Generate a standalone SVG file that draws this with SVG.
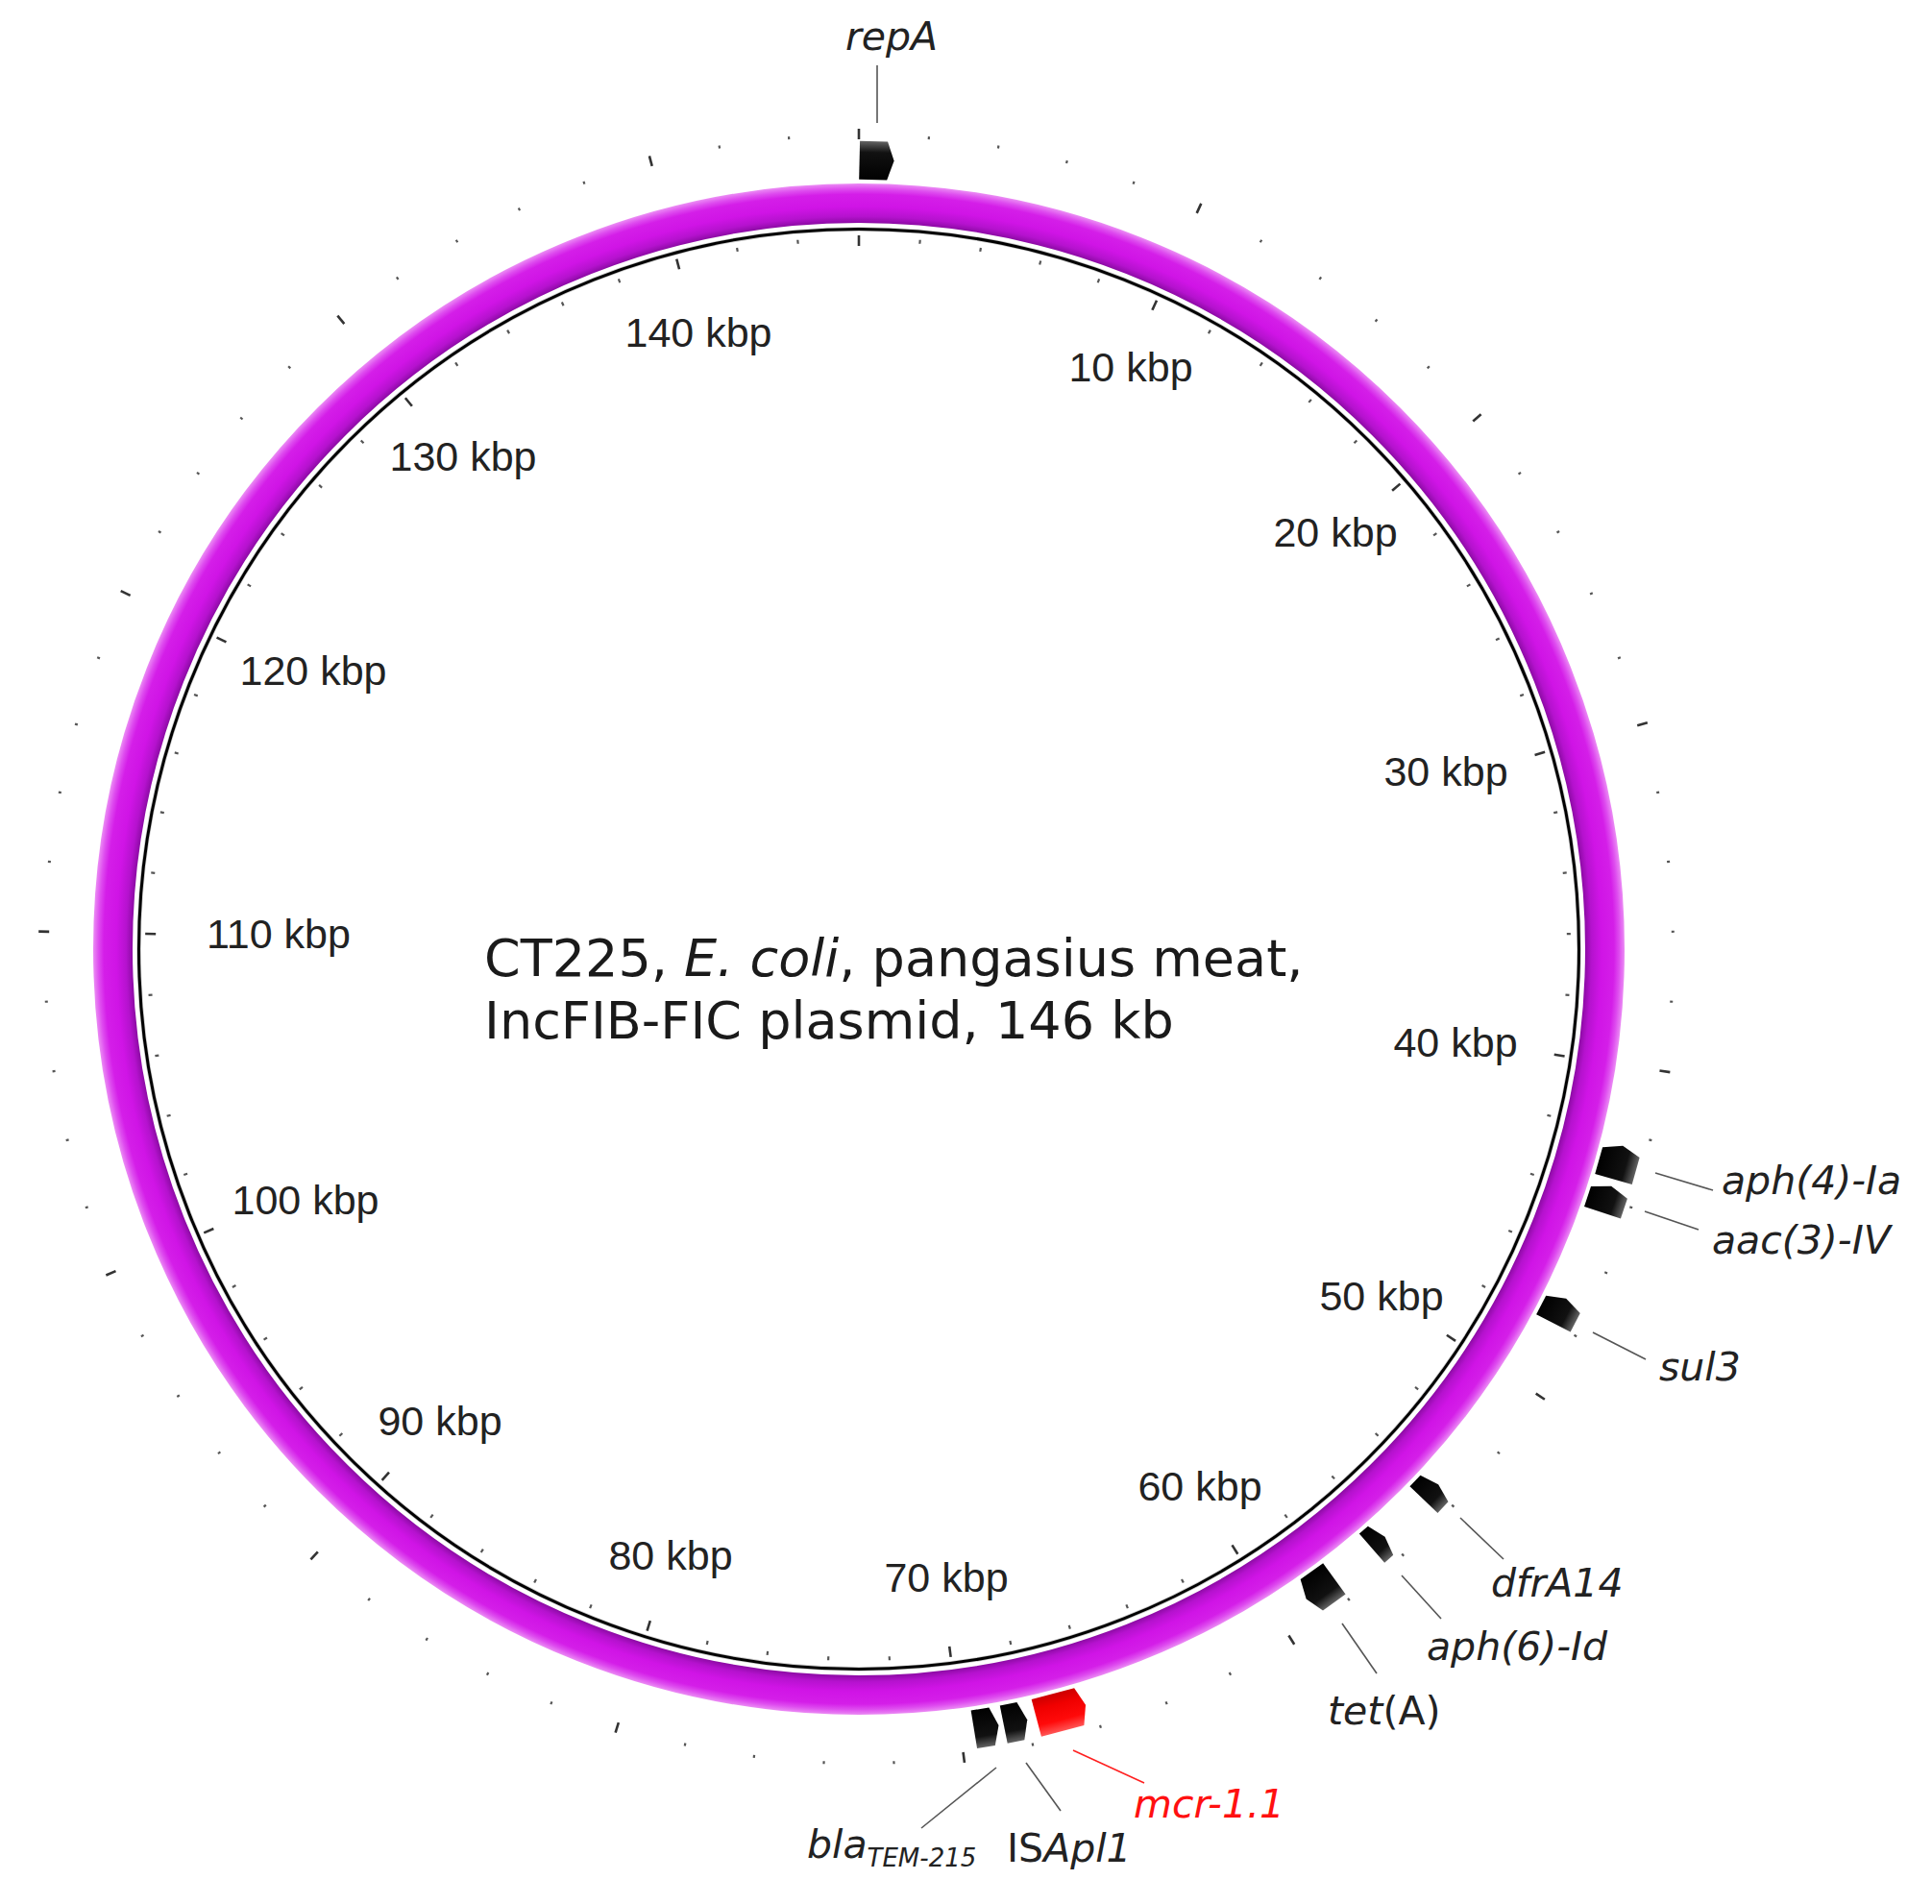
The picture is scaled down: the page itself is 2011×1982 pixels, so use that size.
<svg xmlns="http://www.w3.org/2000/svg" xmlns:xlink="http://www.w3.org/1999/xlink" width="2011" height="1982" viewBox="0 0 2011 1982">
<style>
.kb{font-family:"Liberation Sans",Arial,sans-serif;font-size:43px;fill:#222;text-anchor:middle}
.title{font-family:"DejaVu Sans","Verdana",sans-serif;font-size:54px;fill:#1a1a1a}
.gl{font-family:"DejaVu Sans","Verdana",sans-serif;font-size:41px;fill:#222;font-style:italic}
.up{font-style:normal}
.lead{stroke:#555;stroke-width:1.6;fill:none}
.tk{stroke:#555;stroke-width:2.2}
.TK{stroke:#333;stroke-width:2.6}
.gene{fill:url(#gblack)}
.red{fill:url(#gred)}
</style>
<defs>
<radialGradient id="ring" gradientUnits="userSpaceOnUse" cx="894" cy="988" r="797">
<stop offset="0.948" stop-color="#8a0aa2"/>
<stop offset="0.957" stop-color="#b512ce"/>
<stop offset="0.97" stop-color="#d014e6"/>
<stop offset="0.986" stop-color="#d41ee8"/>
<stop offset="0.993" stop-color="#de4cef"/>
<stop offset="1" stop-color="#eb8cf4"/>
</radialGradient>
<radialGradient id="gblack" gradientUnits="userSpaceOnUse" cx="894" cy="988" r="842">
<stop offset="0.95" stop-color="#000"/>
<stop offset="0.985" stop-color="#111"/>
<stop offset="1" stop-color="#6a6a6a"/>
</radialGradient>
<radialGradient id="gred" gradientUnits="userSpaceOnUse" cx="894" cy="988" r="842">
<stop offset="0.95" stop-color="#c80000"/>
<stop offset="0.965" stop-color="#f00000"/>
<stop offset="0.985" stop-color="#ff0a0a"/>
<stop offset="1" stop-color="#ff5a5a"/>
</radialGradient>
<g id="t"><line class="tk" x1="894" y1="247" x2="894" y2="251"/><line class="tk" x1="894" y1="139" x2="894" y2="142"/></g>
<g id="T"><line class="TK" x1="894" y1="245" x2="894" y2="256"/><line class="TK" x1="894" y1="134" x2="894" y2="145"/></g>
</defs>
<rect width="2011" height="1982" fill="#fff"/>

<g id="backbone">
<circle cx="894" cy="988" r="776.5" fill="none" stroke="url(#ring)" stroke-width="41"/>
<circle cx="894" cy="988" r="749.5" fill="none" stroke="#ccc" stroke-width="4.5"/>
<circle cx="894" cy="988" r="749.5" fill="none" stroke="#000" stroke-width="3"/>
</g>

<g id="ticks">
<use href="#T"/>
<use href="#t" transform="rotate(4.932 894 988)"/>
<use href="#t" transform="rotate(9.863 894 988)"/>
<use href="#t" transform="rotate(14.795 894 988)"/>
<use href="#t" transform="rotate(19.726 894 988)"/>
<use href="#T" transform="rotate(24.658 894 988)"/>
<use href="#t" transform="rotate(29.589 894 988)"/>
<use href="#t" transform="rotate(34.521 894 988)"/>
<use href="#t" transform="rotate(39.452 894 988)"/>
<use href="#t" transform="rotate(44.384 894 988)"/>
<use href="#T" transform="rotate(49.315 894 988)"/>
<use href="#t" transform="rotate(54.247 894 988)"/>
<use href="#t" transform="rotate(59.178 894 988)"/>
<use href="#t" transform="rotate(64.110 894 988)"/>
<use href="#t" transform="rotate(69.041 894 988)"/>
<use href="#T" transform="rotate(73.973 894 988)"/>
<use href="#t" transform="rotate(78.904 894 988)"/>
<use href="#t" transform="rotate(83.836 894 988)"/>
<use href="#t" transform="rotate(88.767 894 988)"/>
<use href="#t" transform="rotate(93.699 894 988)"/>
<use href="#T" transform="rotate(98.630 894 988)"/>
<use href="#t" transform="rotate(103.562 894 988)"/>
<use href="#t" transform="rotate(108.493 894 988)"/>
<use href="#t" transform="rotate(113.425 894 988)"/>
<use href="#t" transform="rotate(118.356 894 988)"/>
<use href="#T" transform="rotate(123.288 894 988)"/>
<use href="#t" transform="rotate(128.219 894 988)"/>
<use href="#t" transform="rotate(133.151 894 988)"/>
<use href="#t" transform="rotate(138.082 894 988)"/>
<use href="#t" transform="rotate(143.014 894 988)"/>
<use href="#T" transform="rotate(147.945 894 988)"/>
<use href="#t" transform="rotate(152.877 894 988)"/>
<use href="#t" transform="rotate(157.808 894 988)"/>
<use href="#t" transform="rotate(162.740 894 988)"/>
<use href="#t" transform="rotate(167.671 894 988)"/>
<use href="#T" transform="rotate(172.603 894 988)"/>
<use href="#t" transform="rotate(177.534 894 988)"/>
<use href="#t" transform="rotate(182.466 894 988)"/>
<use href="#t" transform="rotate(187.397 894 988)"/>
<use href="#t" transform="rotate(192.329 894 988)"/>
<use href="#T" transform="rotate(197.260 894 988)"/>
<use href="#t" transform="rotate(202.192 894 988)"/>
<use href="#t" transform="rotate(207.123 894 988)"/>
<use href="#t" transform="rotate(212.055 894 988)"/>
<use href="#t" transform="rotate(216.986 894 988)"/>
<use href="#T" transform="rotate(221.918 894 988)"/>
<use href="#t" transform="rotate(226.849 894 988)"/>
<use href="#t" transform="rotate(231.781 894 988)"/>
<use href="#t" transform="rotate(236.712 894 988)"/>
<use href="#t" transform="rotate(241.644 894 988)"/>
<use href="#T" transform="rotate(246.575 894 988)"/>
<use href="#t" transform="rotate(251.507 894 988)"/>
<use href="#t" transform="rotate(256.438 894 988)"/>
<use href="#t" transform="rotate(261.370 894 988)"/>
<use href="#t" transform="rotate(266.301 894 988)"/>
<use href="#T" transform="rotate(271.233 894 988)"/>
<use href="#t" transform="rotate(276.164 894 988)"/>
<use href="#t" transform="rotate(281.096 894 988)"/>
<use href="#t" transform="rotate(286.027 894 988)"/>
<use href="#t" transform="rotate(290.959 894 988)"/>
<use href="#T" transform="rotate(295.890 894 988)"/>
<use href="#t" transform="rotate(300.822 894 988)"/>
<use href="#t" transform="rotate(305.753 894 988)"/>
<use href="#t" transform="rotate(310.685 894 988)"/>
<use href="#t" transform="rotate(315.616 894 988)"/>
<use href="#T" transform="rotate(320.548 894 988)"/>
<use href="#t" transform="rotate(325.479 894 988)"/>
<use href="#t" transform="rotate(330.411 894 988)"/>
<use href="#t" transform="rotate(335.342 894 988)"/>
<use href="#t" transform="rotate(340.274 894 988)"/>
<use href="#T" transform="rotate(345.205 894 988)"/>
<use href="#t" transform="rotate(350.137 894 988)"/>
<use href="#t" transform="rotate(355.068 894 988)"/>
</g>

<g id="scale-labels">
<text class="kb" x="1177" y="397">10 kbp</text>
<text class="kb" x="1390" y="569">20 kbp</text>
<text class="kb" x="1505" y="818">30 kbp</text>
<text class="kb" x="1515" y="1100">40 kbp</text>
<text class="kb" x="1438" y="1364">50 kbp</text>
<text class="kb" x="1249" y="1562">60 kbp</text>
<text class="kb" x="985" y="1657">70 kbp</text>
<text class="kb" x="698" y="1634">80 kbp</text>
<text class="kb" x="458" y="1494">90 kbp</text>
<text class="kb" x="318" y="1264">100 kbp</text>
<text class="kb" x="290" y="987">110 kbp</text>
<text class="kb" x="326" y="713">120 kbp</text>
<text class="kb" x="482" y="490">130 kbp</text>
<text class="kb" x="727" y="361">140 kbp</text>
</g>

<g id="title">
<text class="title" x="504" y="1016">CT225, <tspan font-style="italic">E. coli</tspan>, pangasius meat,</text>
<text class="title" x="504" y="1081">IncFIB-FIC plasmid, 146 kb</text>
</g>

<g id="connectors">
<line class="lead" x1="913" y1="68" x2="913" y2="128"/>
<line class="lead" x1="1723" y1="1221" x2="1783" y2="1239"/>
<line class="lead" x1="1712" y1="1261" x2="1768" y2="1280"/>
<line class="lead" x1="1658" y1="1387" x2="1713" y2="1415"/>
<line class="lead" x1="1520" y1="1580" x2="1565" y2="1623"/>
<line class="lead" x1="1459" y1="1640" x2="1500" y2="1685"/>
<line class="lead" x1="1397" y1="1690" x2="1433" y2="1742"/>
<line class="lead" x1="1117" y1="1822" x2="1191" y2="1856" style="stroke:#ff2020"/>
<line class="lead" x1="1068" y1="1835" x2="1104" y2="1885"/>
<line class="lead" x1="1037" y1="1840" x2="959" y2="1903"/>
</g>

<g id="gene-repA">
<path class="gene" transform="rotate(1.3 894 988)" d="M876,187 L905,187 L912,167 L905,147 L876,147 Z"/>
<text class="gl" x="880" y="52">repA</text>
</g>
<g id="gene-aph4Ia">
<path class="gene" transform="rotate(105.7 894 988)" d="M912,187 L883,187 L876,167 L883,147 L912,147 Z"/>
<text class="gl" x="1792" y="1243">aph(4)-Ia</text>
</g>
<g id="gene-aac3IV">
<path class="gene" transform="rotate(108.5 894 988)" d="M908.5,187 L886.5,187 L879.5,167 L886.5,147 L908.5,147 Z"/>
<text class="gl" x="1782" y="1305">aac(3)-IV</text>
</g>
<g id="gene-sul3">
<path class="gene" transform="rotate(117.3 894 988)" d="M908.5,187 L886.5,187 L879.5,167 L886.5,147 L908.5,147 Z"/>
<text class="gl" x="1727" y="1437">sul3</text>
</g>
<g id="gene-dfrA14">
<path class="gene" transform="rotate(133.5 894 988)" d="M905,187 L889,187 L883,167 L889,147 L905,147 Z"/>
<text class="gl" x="1552" y="1662">dfrA14</text>
</g>
<g id="gene-aph6Id">
<path class="gene" transform="rotate(138.8 894 988)" d="M903,187 L891,187 L885,167 L891,147 L903,147 Z"/>
<text class="gl" x="1485" y="1728">aph(6)-Id</text>
</g>
<g id="gene-tetA">
<path class="gene" transform="rotate(144.2 894 988)" d="M876,187 L905,187 L912,167 L905,147 L876,147 Z"/>
<text class="gl" x="1382" y="1795">tet<tspan class="up">(A)</tspan></text>
</g>
<g id="gene-mcr">
<path class="red" transform="rotate(165.15 894 988)" d="M920.5,187 L874.5,187 L867.5,167 L874.5,147 L920.5,147 Z"/>
<text class="gl" x="1180" y="1892" style="fill:#ff1010">mcr-1.1</text>
</g>
<g id="gene-ISApl1">
<path class="gene" transform="rotate(168.55 894 988)" d="M906.5,187 L888.5,187 L881.5,167 L888.5,147 L906.5,147 Z"/>
<text class="gl" x="1048" y="1938"><tspan class="up">IS</tspan>Apl1</text>
</g>
<g id="gene-bla">
<path class="gene" transform="rotate(170.7 894 988)" d="M907,187 L888,187 L881,167 L888,147 L907,147 Z"/>
<text class="gl" x="840" y="1934">bla<tspan font-size="26" dy="9">TEM-215</tspan></text>
</g>
</svg>
